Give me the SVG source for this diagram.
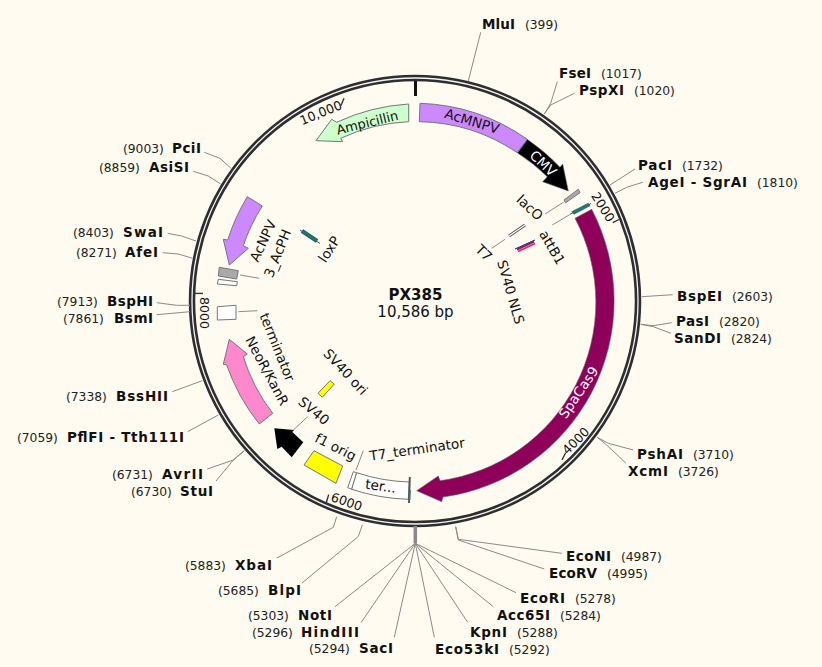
<svg xmlns="http://www.w3.org/2000/svg" width="822" height="667" viewBox="0 0 822 667">
<style>
text{font-family:"DejaVu Sans","Liberation Sans",sans-serif;fill:#111}
.b{font-weight:bold;font-size:13.5px}
.n{font-size:12.3px;fill:#222}
.f{font-size:13.6px;text-anchor:middle;dominant-baseline:central}
.w{fill:#fff}
.t{font-size:12.6px;text-anchor:middle;dominant-baseline:central}
.s{stroke:#777;stroke-width:1}
.c polyline,.c line{fill:none;stroke:#8a8a8a;stroke-width:1}
</style>
<rect width="822" height="667" fill="#fffbf0"/>
<g id="backbone">
<circle cx="415" cy="301" r="223" fill="none" stroke="#2e2e2e" stroke-width="6.5"/>
<circle cx="415" cy="301" r="223" fill="none" stroke="#f4f4f4" stroke-width="1.3"/>
<line x1="415.5" y1="81" x2="415.5" y2="96" stroke="#111" stroke-width="3"/>
<g stroke="#333" stroke-width="1.4">
<line x1="612.7" y1="222.7" x2="619" y2="219.5"/>
<line x1="565.5" y1="453" x2="562" y2="460"/>
<line x1="328.7" y1="494.6" x2="326" y2="503.5"/>
<line x1="193" y1="293.4" x2="203" y2="293.4"/>
<line x1="344" y1="98.3" x2="341" y2="105.5"/>
</g>
<text class="t" transform="translate(603,207) rotate(58)">2000</text>
<text class="t" transform="translate(575.7,440.7) rotate(-45)">4000</text>
<text class="t" transform="translate(346.7,501.7) rotate(19)">6000</text>
<text class="t" transform="translate(204.3,313) rotate(90)">8000</text>
<text class="t" transform="translate(320.7,112.7) rotate(-22)">10,000</text>
</g>
<g id="connectors" class="c">
<line x1="480.7" y1="32.3" x2="468.3" y2="81"/>
<polyline points="557.3,81.7 550.7,103.3 544.3,114"/>
<polyline points="574.3,93.3 550.7,105 544.3,114"/>
<line x1="635" y1="169" x2="610" y2="185"/>
<polyline points="642.7,182.3 626.7,187.3 615,193.3"/>
<line x1="672.7" y1="294.7" x2="641.7" y2="296.7"/>
<polyline points="671.7,322.7 653.3,325.7 640.7,324.3"/>
<polyline points="671,333.3 653.3,326.7 640.7,324.3"/>
<polyline points="633.3,450 608.3,443.3 597.3,437.3"/>
<polyline points="626,463.3 606.7,445 597.3,437.3"/>
<polyline points="561.7,553.3 458.3,539.3 455.7,526.7"/>
<polyline points="544.3,569 458.3,540 455.7,526.7"/>
<line x1="415.3" y1="543.3" x2="415.3" y2="526" style="stroke-width:3.5"/>
<line x1="516" y1="592.7" x2="415.3" y2="543.3"/>
<line x1="493.3" y1="606.7" x2="415.3" y2="543.3"/>
<line x1="467.7" y1="622.3" x2="415.3" y2="543.3"/>
<line x1="434.3" y1="637.3" x2="415.3" y2="543.3"/>
<line x1="394.3" y1="637.3" x2="415.3" y2="543.3"/>
<line x1="361" y1="622.7" x2="415.3" y2="543.3"/>
<line x1="335" y1="606.7" x2="415.3" y2="543.3"/>
<polyline points="302,583 358.3,536.5 362.3,525"/>
<polyline points="277,558 333.3,527.3 336.7,516.7"/>
<polyline points="216,481 233.3,460 244.3,450.7"/>
<polyline points="207.3,469 233.3,460 244.3,450.7"/>
<line x1="187.7" y1="431.7" x2="218.3" y2="415"/>
<line x1="172.3" y1="391.7" x2="202.3" y2="380.7"/>
<line x1="156.7" y1="314.7" x2="190" y2="311.7"/>
<polyline points="156.7,302.7 176.7,305.3 190,305.3"/>
<polyline points="162.7,252.7 178.3,254 192.7,258.3"/>
<polyline points="167.7,233.3 181.7,236 196,241"/>
<polyline points="193.3,171.3 208.3,176 220.7,184"/>
<polyline points="204.3,152.3 220,158.3 231,168.3"/>
<line x1="545" y1="214" x2="563.3" y2="202.3"/>
<line x1="552.3" y1="225" x2="569" y2="215"/>
<line x1="491.7" y1="248.3" x2="505" y2="239.3"/>
<line x1="240" y1="275" x2="259.3" y2="278.3"/>
<line x1="238.3" y1="311.7" x2="257.3" y2="310.7"/>
<line x1="307.7" y1="416.7" x2="293.3" y2="430"/>
<line x1="363.3" y1="450.7" x2="356" y2="470"/>
</g>
<g id="AcMNPV">
<path class="s" fill="#cc88ff" d="M420,103.3A198,198 0 0 1 527.3,139.3L517.3,152.7A180,180 0 0 0 419.3,121.7Z"/>
<text class="f" transform="translate(472,121) rotate(17)">AcMNPV</text>
</g>
<g id="CMV">
<path fill="#000" stroke="#666" stroke-width=".6" d="M527.5,139.5A198,198 0 0 1 560,167.3L562.7,164L568.3,191L542.7,181.7L547.3,176.7A180,180 0 0 0 517.5,153Z"/>
<text class="f w" transform="translate(543.3,163.3) rotate(43)">CMV</text>
</g>
<g id="SpaCas9">
<path fill="#8e005a" stroke="#666" stroke-width=".6" d="M591.7,209.3A198,198 0 0 1 443,497L441.7,501.7L416.7,490.7L438.3,476L440,480.7A180,180 0 0 0 575,218.3Z"/>
<text class="f w" transform="translate(578.3,392.3) rotate(-56)" font-weight="500">SpaCas9</text>
</g>
<g id="Ampicillin">
<path class="s" fill="#ccffcc" d="M408.7,104A198,198 0 0 0 336.7,122.3L331.7,119.3L316,140.7L342.7,141.7L340.7,138.3A180,180 0 0 1 408.7,121.7Z"/>
<text class="f" style="font-size:13px" transform="translate(367.3,122.7) rotate(-14)">Ampicillin</text>
</g>
<g id="AcNPV">
<path class="s" fill="#cc88ff" d="M247.3,196.7A198,198 0 0 0 227.7,240L223.3,239.3L229.3,265L248.3,248.3L243.3,245.7A180,180 0 0 1 262.3,206Z"/>
<text class="f" transform="translate(262.7,240.7) rotate(-65)">AcNPV</text>
</g>
<g id="f3_AcPH">
<path class="s" fill="#aaa" d="M219.3,267.3L238.3,270.7L236.7,279L218.3,276Z"/>
<path class="s" fill="#fff" d="M218.3,279.3L237.3,281.7L236.7,285.7L217.3,284Z"/>
<text class="f" transform="translate(277.3,253.3) rotate(-68)">3_AcPH</text>
</g>
<g id="loxP">
<line x1="300" y1="230" x2="320" y2="243.5" stroke="#555" stroke-width="1"/>
<line x1="302" y1="231" x2="317" y2="241" stroke="#444" stroke-width="4"/>
<line x1="302" y1="231" x2="317" y2="241" stroke="#0a8080" stroke-width="2.4"/>
<text class="f" transform="translate(329,249) rotate(-57)">loxP</text>
</g>
<g id="terminator">
<path class="s" fill="#fff" d="M217.3,306.7L236,305.3L236,319.3L217.3,320Z"/>
<text class="f" transform="translate(277.5,347) rotate(68)">terminator</text>
</g>
<g id="NeoR_KanR">
<path class="s" fill="#ff88cc" d="M259.3,424A198,198 0 0 1 226.7,365L223.3,364.3L229.3,339.3L247.3,354L243.3,356.7A180,180 0 0 0 272.7,413.3Z"/>
<text class="f" transform="translate(267.3,370.7) rotate(62)">NeoR/KanR</text>
</g>
<g id="SV40">
<path fill="#000" d="M274.3,428.3L294,430L292.3,432L303.3,442.3L291.7,457.3L281.7,446.7L277.3,449Z"/>
<text class="f" transform="translate(314,410.7) rotate(40)">SV40</text>
</g>
<g id="SV40_ori">
<path class="s" fill="#ffff00" d="M330,380.7L334.3,384L322.3,397.3L318,393.3Z"/>
<text class="f" transform="translate(345.7,371.7) rotate(47)">SV40 ori</text>
</g>
<g id="f1_orig">
<path class="s" fill="#ffff00" d="M314,450.7L342.7,466L336,483.3L304,465Z"/>
<text class="f" transform="translate(335.7,446.7) rotate(27)">f1 orig</text>
</g>
<g id="T7_terminator">
<path class="s" fill="#fff" d="M353.3,471.7L347.7,487.7L351.7,489.3L356.7,472.7Z"/>
<path class="s" fill="#fff" d="M351.7,489.3A198,198 0 0 0 408.3,499.3L409.3,482A180,180 0 0 1 356.7,472.7Z"/>
<line x1="409.8" y1="477" x2="409" y2="503" stroke="#555" stroke-width="2"/>
<line x1="410" y1="490" x2="409.6" y2="500" stroke="#0a8080" stroke-width="1.4"/>
<text class="f" transform="translate(380.7,485.7) rotate(8)">ter...</text>
<text class="f" transform="translate(417,449) rotate(-8)">T7_terminator</text>
</g>
<g id="lacO">
<path class="s" fill="#aaa" d="M564,200L578.3,189.3L580,192.7L565.7,202.7Z"/>
<text class="f" transform="translate(530,207.3) rotate(43)">lacO</text>
</g>
<g id="attB1">
<line x1="569.5" y1="214.5" x2="591" y2="203.5" stroke="#555" stroke-width="1"/>
<path d="M571.7,211.7L588.3,203.3L590,205.7L574,214.3Z" fill="#0a8080" stroke="#444" stroke-width=".6"/>
<text class="f" transform="translate(552.3,247.3) rotate(60)">attB1</text>
</g>
<g id="T7">
<line x1="509" y1="236" x2="525" y2="225" stroke="#555" stroke-width="3"/>
<line x1="509" y1="236" x2="525" y2="225" stroke="#fff" stroke-width="1.2"/>
<text class="f" transform="translate(484,252.7) rotate(45)">T7</text>
</g>
<g id="SV40_NLS">
<line x1="515" y1="249" x2="535" y2="240" stroke="#222" stroke-width="1"/>
<line x1="517" y1="249.5" x2="534" y2="241.5" stroke="#7020a0" stroke-width="2.2"/>
<line x1="518" y1="251.5" x2="535" y2="243.5" stroke="#ff2040" stroke-width="1.8"/>
<text class="f" transform="translate(511,292) rotate(74)">SV40 NLS</text>
</g>
<g id="title">
<text x="415.5" y="300" text-anchor="middle" font-weight="bold" font-size="15">PX385</text>
<text x="415.5" y="316.7" text-anchor="middle" font-size="15">10,586 bp</text>
</g>
<g id="MluI"><text class="b" x="482" y="29" textLength="33">MluI</text><text class="n" x="525" y="29">(399)</text></g>
<g id="FseI"><text class="b" x="559" y="78" textLength="32">FseI</text><text class="n" x="601" y="78">(1017)</text></g>
<g id="PspXI"><text class="b" x="579" y="95" textLength="45">PspXI</text><text class="n" x="634" y="95">(1020)</text></g>
<g id="PacI"><text class="b" x="638" y="170" textLength="34">PacI</text><text class="n" x="682" y="170">(1732)</text></g>
<g id="AgeI_SgrAI"><text class="b" x="648" y="187" textLength="99">AgeI - SgrAI</text><text class="n" x="757" y="187">(1810)</text></g>
<g id="BspEI"><text class="b" x="677" y="301" textLength="45">BspEI</text><text class="n" x="732" y="301">(2603)</text></g>
<g id="PasI"><text class="b" x="676" y="326" textLength="33">PasI</text><text class="n" x="719" y="326">(2820)</text></g>
<g id="SanDI"><text class="b" x="674" y="343" textLength="47">SanDI</text><text class="n" x="731" y="343">(2824)</text></g>
<g id="PshAI"><text class="b" x="637" y="459" textLength="46">PshAI</text><text class="n" x="693" y="459">(3710)</text></g>
<g id="XcmI"><text class="b" x="628" y="476" textLength="40">XcmI</text><text class="n" x="678" y="476">(3726)</text></g>
<g id="EcoNI"><text class="b" x="566" y="561" textLength="45">EcoNI</text><text class="n" x="621" y="561">(4987)</text></g>
<g id="EcoRV"><text class="b" x="549" y="578" textLength="48">EcoRV</text><text class="n" x="607" y="578">(4995)</text></g>
<g id="EcoRI"><text class="b" x="520" y="603" textLength="45">EcoRI</text><text class="n" x="575" y="603">(5278)</text></g>
<g id="Acc65I"><text class="b" x="497" y="620" textLength="53">Acc65I</text><text class="n" x="560" y="620">(5284)</text></g>
<g id="KpnI"><text class="b" x="470" y="637" textLength="37">KpnI</text><text class="n" x="517" y="637">(5288)</text></g>
<g id="Eco53kI"><text class="b" x="435" y="654" textLength="64">Eco53kI</text><text class="n" x="509" y="654">(5292)</text></g>
<g id="SacI"><text class="b" x="359" y="653" textLength="34">SacI</text><text class="n" x="309" y="653">(5294)</text></g>
<g id="HindIII"><text class="b" x="301" y="637" textLength="58">HindIII</text><text class="n" x="252" y="637">(5296)</text></g>
<g id="NotI"><text class="b" x="298" y="620" textLength="34">NotI</text><text class="n" x="248" y="620">(5303)</text></g>
<g id="BlpI"><text class="b" x="268" y="595" textLength="33">BlpI</text><text class="n" x="218" y="595">(5685)</text></g>
<g id="XbaI"><text class="b" x="235" y="570" textLength="37">XbaI</text><text class="n" x="185" y="570">(5883)</text></g>
<g id="StuI"><text class="b" x="180" y="496" textLength="33">StuI</text><text class="n" x="131" y="496">(6730)</text></g>
<g id="AvrII"><text class="b" x="162" y="479" textLength="41">AvrII</text><text class="n" x="112" y="479">(6731)</text></g>
<g id="PflFI_Tth111I"><text class="b" x="67" y="442" textLength="117">PflFI - Tth111I</text><text class="n" x="17" y="442">(7059)</text></g>
<g id="BssHII"><text class="b" x="116" y="401" textLength="52">BssHII</text><text class="n" x="66" y="401">(7338)</text></g>
<g id="BsmI"><text class="b" x="114" y="323" textLength="39">BsmI</text><text class="n" x="63" y="323">(7861)</text></g>
<g id="BspHI"><text class="b" x="107" y="306" textLength="46">BspHI</text><text class="n" x="57" y="306">(7913)</text></g>
<g id="AfeI"><text class="b" x="125" y="257" textLength="33">AfeI</text><text class="n" x="76" y="257">(8271)</text></g>
<g id="SwaI"><text class="b" x="123" y="237" textLength="40">SwaI</text><text class="n" x="73" y="237">(8403)</text></g>
<g id="AsiSI"><text class="b" x="149" y="172" textLength="40">AsiSI</text><text class="n" x="99" y="172">(8859)</text></g>
<g id="PciI"><text class="b" x="172" y="153" textLength="29">PciI</text><text class="n" x="123" y="153">(9003)</text></g>
</svg>
